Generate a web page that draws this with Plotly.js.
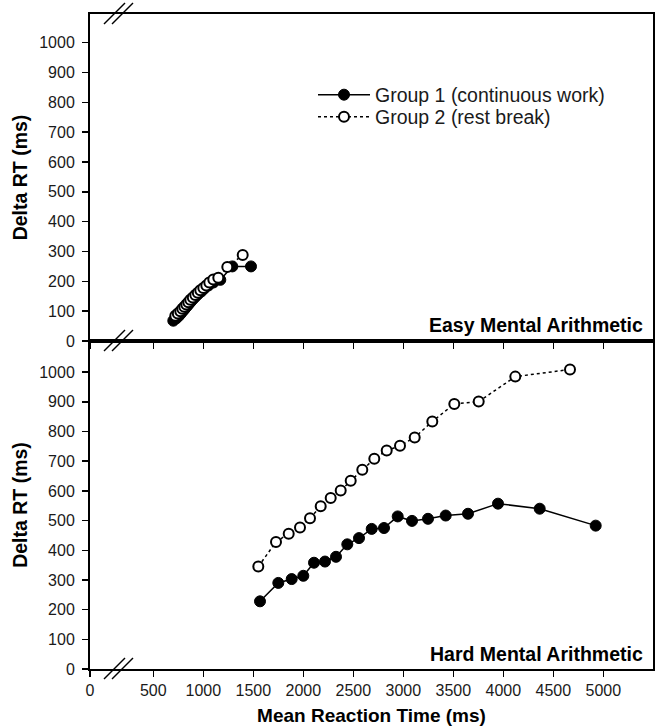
<!DOCTYPE html>
<html>
<head>
<meta charset="utf-8">
<script src="https://cdn.plot.ly/plotly-3.0.1.min.js"></script>
<style>html,body{margin:0;padding:0;background:#fff}#chart{width:661px;height:726px}</style>
</head>
<body>
<div id="chart"></div>
<script>
// ---- data ----
var easyG1X = [700, 730, 755, 775, 795, 815, 835, 855, 875, 900, 925, 950, 980, 1010, 1050, 1100, 1170, 1290, 1477];
var easyG1Y = [68, 76, 84, 92, 100, 108, 116, 124, 132, 141, 150, 158, 166, 176, 186, 196, 205, 250, 250];
var easyG2X = [720, 745, 770, 790, 810, 830, 850, 870, 895, 920, 945, 970, 1000, 1030, 1060, 1100, 1150, 1240, 1394];
var easyG2Y = [85, 92, 100, 108, 115, 122, 130, 138, 146, 154, 162, 170, 178, 186, 196, 206, 212, 248, 288];

var hardG1X = [1567, 1750, 1884, 2000, 2107, 2217, 2327, 2440, 2557, 2684, 2807, 2944, 3087, 3247, 3424, 3647, 3947, 4364, 4924];
var hardG1Y = [228, 290, 303, 314, 358, 362, 378, 420, 441, 472, 475, 514, 499, 506, 517, 523, 557, 540, 483];
var hardG2X = [1550, 1727, 1854, 1967, 2067, 2174, 2274, 2374, 2474, 2590, 2710, 2834, 2967, 3114, 3290, 3510, 3754, 4120, 4667];
var hardG2Y = [345, 428, 456, 477, 508, 548, 576, 601, 634, 671, 708, 736, 752, 780, 834, 893, 901, 985, 1009];

var seriesNames = ["Group 1 (continuous work)", "Group 2 (rest break)"];
var panelLabels = ["Easy Mental Arithmetic", "Hard Mental Arithmetic"];
var xTickText = ["0", "500", "1000", "1500", "2000", "2500", "3000", "3500", "4000", "4500", "5000"];
var yTickVals = [0, 100, 200, 300, 400, 500, 600, 700, 800, 900, 1000];

// broken axis: the "0" label sits at the left edge, before the break
var xMin = -133, xMax = 5497;
var xTickVals = xTickText.map(function (t, i) { return i === 0 ? xMin : Number(t); });

var FONT = "Arial, 'Liberation Sans', Helvetica, sans-serif";
var BLACK = "#000";

function g1(x, y, xa, ya, show) {
  return {x: x, y: y, xaxis: xa, yaxis: ya, type: "scatter", mode: "lines+markers",
    name: seriesNames[0], showlegend: show, legend: "legend",
    line: {color: BLACK, width: 1.5},
    marker: {symbol: "circle", size: 11, color: BLACK, line: {color: BLACK, width: 1}}};
}
function g2(x, y, xa, ya, show) {
  return {x: x, y: y, xaxis: xa, yaxis: ya, type: "scatter", mode: "lines+markers",
    name: seriesNames[1], showlegend: show, legend: "legend2",
    line: {color: BLACK, width: 1.5, dash: "dot"},
    marker: {symbol: "circle", size: 10, color: "#fff", line: {color: BLACK, width: 2}}};
}

var traces = [
  g1(hardG1X, hardG1Y, "x", "y2", false),
  g2(hardG2X, hardG2Y, "x", "y2", false),
  g1(easyG1X, easyG1Y, "x2", "y", true),
  g2(easyG2X, easyG2Y, "x2", "y", true)
];

var split = 328 / 655;

var axisCommon = {
  showline: true, linecolor: BLACK, linewidth: 2, mirror: true,
  ticks: "outside", ticklen: 6, tickwidth: 1.5, tickcolor: BLACK,
  showgrid: false, zeroline: false,
  tickfont: {family: FONT, size: 16, color: "#1a1a1a"}
};

function merge(a, b) { var o = {}; for (var k in a) o[k] = a[k]; for (var k2 in b) o[k2] = b[k2]; return o; }

// break marks (two short parallel slashes), drawn in paper coordinates
var W = 563, H = 655;
function slashes(yPx) {
  var out = [];
  [0, 8].forEach(function (off) {
    out.push({type: "line", xref: "paper", yref: "paper",
      x0: (104 + off - 90) / W, x1: (125 + off - 90) / W,
      y0: (669 - (yPx + 10)) / H, y1: (669 - (yPx - 11)) / H,
      line: {color: BLACK, width: 1.5}});
  });
  return out;
}
var shapes = [].concat(slashes(14), slashes(341), slashes(669));

var legendCommon = {x: (313 - 90) / W, xanchor: "left", yanchor: "middle",
  bgcolor: "rgba(0,0,0,0)", borderwidth: 0, itemwidth: 52,
  font: {family: FONT, size: 19.5, color: "#1a1a1a"}};

var layout = {
  width: 661, height: 726,
  margin: {l: 90, r: 8, t: 14, b: 57},
  paper_bgcolor: "#fff", plot_bgcolor: "#fff",
  font: {family: FONT, color: BLACK},
  showlegend: true,
  legend: merge(legendCommon, {y: (669 - 95) / H}),
  legend2: merge(legendCommon, {y: (669 - 117) / H}),
  xaxis: merge(axisCommon, {anchor: "y2", range: [xMin, xMax], tickmode: "array",
    tickvals: xTickVals, ticktext: xTickText,
    title: {text: "Mean Reaction Time (ms)", font: {family: FONT, size: 19, color: BLACK, weight: "bold"}, standoff: 10}}),
  xaxis2: merge(axisCommon, {anchor: "y", matches: "x", range: [xMin, xMax], tickmode: "array",
    tickvals: xTickVals, showticklabels: false}),
  yaxis: merge(axisCommon, {domain: [split, 1], range: [0, 1096], tickmode: "array", tickvals: yTickVals,
    ticklabelstandoff: 4,
    title: {text: "Delta RT (ms)", font: {family: FONT, size: 19.5, color: BLACK, weight: "bold"}, standoff: 6}}),
  yaxis2: merge(axisCommon, {domain: [0, split], range: [0, 1105], tickmode: "array", tickvals: yTickVals,
    ticklabelstandoff: 4,
    title: {text: "Delta RT (ms)", font: {family: FONT, size: 19.5, color: BLACK, weight: "bold"}, standoff: 6}}),
  shapes: shapes,
  annotations: [
    {text: panelLabels[0], xref: "paper", yref: "paper", x: (645 - 90) / W, y: (669 - 325) / H,
      xanchor: "right", yanchor: "middle", showarrow: false,
      font: {family: FONT, size: 19.5, color: BLACK, weight: "bold"}},
    {text: panelLabels[1], xref: "paper", yref: "paper", x: (645 - 90) / W, y: (669 - 654) / H,
      xanchor: "right", yanchor: "middle", showarrow: false,
      font: {family: FONT, size: 19.5, color: BLACK, weight: "bold"}}
  ]
};

Plotly.newPlot("chart", traces, layout, {staticPlot: true, displayModeBar: false});
</script>
</body>
</html>
